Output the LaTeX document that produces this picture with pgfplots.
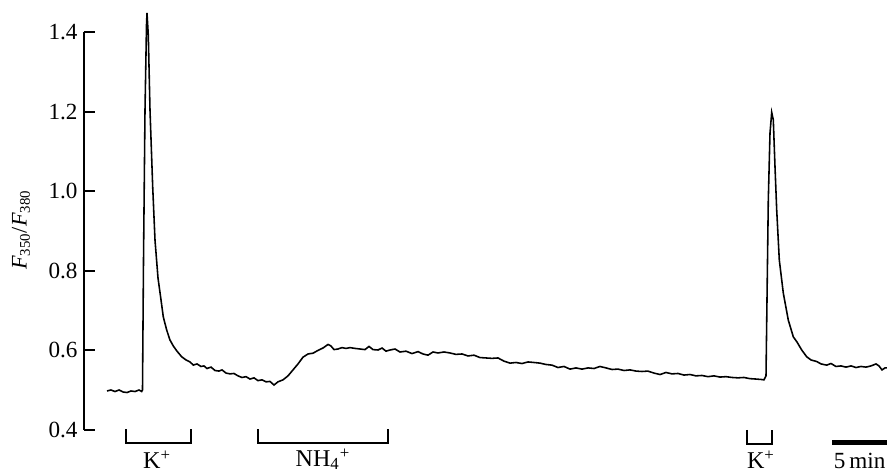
\documentclass[border=0pt]{standalone}
\usepackage{fontspec}
\setmainfont{Liberation Serif}
\usepackage{pgfplots}
\pgfplotsset{compat=1.18}

% Fura-2 ratio trace (time in min, ratio F350/F380)
\begin{document}
\begin{tikzpicture}
\begin{axis}[
  x=6.48pt, y=214.92pt,
  xmin=-1.917, xmax=65, ymin=0.4, ymax=1.4,
  enlargelimits=false, clip=false,
  axis x line=none, axis y line*=left,
  axis line style={line width=1.2pt},
  ytick={0.4,0.6,...,1.4},
  tick align=inside, major tick length=6pt,
  every tick/.style={black, line width=1.1pt},
  yticklabel style={/pgf/number format/.cd, fixed, fixed zerofill, precision=1, assume math mode=true},
  ticklabel style={font=\fontsize{12.5}{14}\selectfont},
]
\addplot[black, line width=0.85pt] coordinates {
(0,0.498) (0.333,0.5005) (0.667,0.4967) (1.0,0.5005) (1.333,0.4955) (1.667,0.4942)
(2.0,0.498) (2.333,0.4967) (2.667,0.5005) (2.892,0.4967) (2.958,0.5005)
(3.042,0.827) (3.167,1.204) (3.292,1.418) (3.333,1.448) (3.442,1.392) (3.583,1.204)
(3.808,1.011) (4.0,0.877) (4.25,0.782) (4.5,0.727) (4.692,0.684) (4.975,0.651)
(5.25,0.626) (5.525,0.611) (5.833,0.598) (6.225,0.584) (6.583,0.576) (6.917,0.571)
(7.192,0.563) (7.5,0.566) (7.833,0.5596) (8.083,0.561) (8.333,0.5545) (8.667,0.558)
(9.0,0.5495) (9.333,0.548) (9.583,0.551) (9.917,0.543) (10.25,0.541) (10.583,0.542)
(10.917,0.536) (11.25,0.532) (11.583,0.534) (11.917,0.528) (12.25,0.531) (12.583,0.524)
(12.917,0.526) (13.25,0.521) (13.583,0.522) (13.917,0.513) (14.25,0.521) (14.667,0.526)
(15.083,0.536) (15.5,0.551) (15.917,0.566) (16.333,0.583) (16.75,0.591) (17.167,0.593)
(17.583,0.600) (18.0,0.606) (18.417,0.615) (18.667,0.611) (18.917,0.602) (19.25,0.6035)
(19.583,0.607) (19.917,0.605) (20.25,0.607) (20.667,0.605) (21.083,0.6035) (21.5,0.602)
(21.833,0.610) (22.167,0.602) (22.583,0.601) (22.917,0.606) (23.25,0.598) (23.583,0.601)
(24.0,0.6035) (24.417,0.596) (24.917,0.598) (25.417,0.592) (25.917,0.597) (26.333,0.591)
(26.75,0.588) (27.167,0.596) (27.583,0.5935) (28.083,0.596) (28.583,0.5935) (29.083,0.590)
(29.583,0.591) (30.083,0.586) (30.583,0.588) (31.083,0.582) (31.583,0.581) (32.083,0.580)
(32.583,0.581) (33.083,0.573) (33.583,0.568) (34.083,0.5696) (34.583,0.567) (35.083,0.571)
(35.583,0.5696) (36.083,0.568) (36.583,0.5646) (37.083,0.563) (37.583,0.557) (38.083,0.5596)
(38.583,0.553) (39.083,0.556) (39.583,0.553) (40.083,0.556) (40.583,0.5545) (41.083,0.5596)
(41.583,0.556) (42.083,0.552) (42.583,0.553) (43.083,0.5495) (43.583,0.551) (44.083,0.548)
(44.583,0.547) (45.083,0.548) (45.583,0.543) (46.083,0.5394) (46.583,0.5445) (47.083,0.541)
(47.583,0.542) (48.083,0.538) (48.583,0.5394) (49.083,0.536) (49.583,0.537) (50.083,0.534)
(50.583,0.536) (51.083,0.533) (51.583,0.534) (52.083,0.532) (52.583,0.531) (53.083,0.532)
(53.583,0.529) (54.083,0.528) (54.5,0.527) (54.75,0.526)
(54.917,0.536) (55.108,0.978) (55.25,1.146) (55.392,1.198) (55.525,1.179) (55.667,1.061)
(55.808,0.953) (56.025,0.827) (56.358,0.744) (56.775,0.676) (57.192,0.634) (57.5,0.621)
(57.892,0.601) (58.308,0.584) (58.667,0.576) (59.142,0.572) (59.5,0.566) (59.975,0.563)
(60.333,0.567) (60.75,0.5596) (61.167,0.561) (61.583,0.558) (62.0,0.561) (62.417,0.557)
(62.833,0.5596) (63.25,0.558) (63.667,0.561) (64.083,0.566) (64.333,0.561) (64.583,0.551)
(64.833,0.556) (65.0,0.556)
};
% application brackets
\draw[line width=1pt] (axis cs:1.583,0.4025) -- (axis cs:1.583,0.367) -- (axis cs:7.0,0.367) -- (axis cs:7.0,0.4025);
\draw[line width=1pt] (axis cs:12.58,0.4025) -- (axis cs:12.58,0.367) -- (axis cs:23.42,0.367) -- (axis cs:23.42,0.4025);
\draw[line width=1pt] (axis cs:53.33,0.4) -- (axis cs:53.33,0.365) -- (axis cs:55.42,0.365) -- (axis cs:55.42,0.4);
\node[anchor=base, font=\fontsize{13}{15}\selectfont, inner sep=0pt] at (axis cs:4.17,0.304) {K\textsuperscript{+}};
\node[anchor=base, font=\fontsize{13}{15}\selectfont, inner sep=0pt] at (axis cs:18.0,0.309) {NH\textsubscript{4}\textsuperscript{+}};
\node[anchor=base, font=\fontsize{13}{15}\selectfont, inner sep=0pt] at (axis cs:54.5,0.304) {K\textsuperscript{+}};
% time scale bar
\draw[line width=2.9pt] (axis cs:60.42,0.368) -- (axis cs:65.42,0.368);
\node[anchor=base east, font=\fontsize{12.5}{15}\selectfont, inner sep=0pt] at (axis cs:64.9,0.304) {5\,min};
% y label
\node[rotate=90, font=\fontsize{12}{14}\selectfont, inner sep=0pt] at (axis cs:-7.17,0.9025) {\textit{F}\textsubscript{350}/\textit{F}\textsubscript{380}};
\coordinate (bl) at (axis cs:-8.917,0.2945);
\coordinate (tr) at (axis cs:65,1.4804);
\end{axis}
\pgfresetboundingbox
\useasboundingbox (bl) rectangle (tr);
\end{tikzpicture}
\end{document}
